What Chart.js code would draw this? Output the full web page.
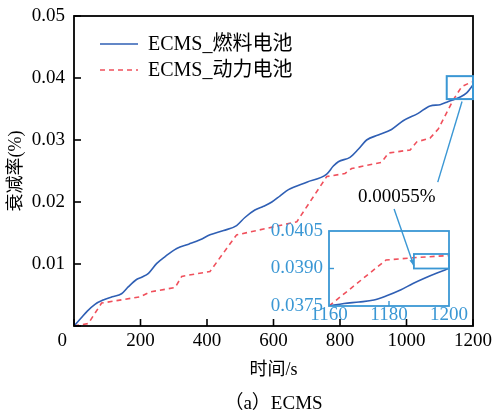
<!DOCTYPE html>
<html><head><meta charset="utf-8">
<script src="https://cdn.jsdelivr.net/npm/chart.js@4.4.1/dist/chart.umd.min.js"></script>
<style>
html,body{margin:0;padding:0;background:#fff;}
#wrap{position:relative;width:494px;height:414px;}
#main{position:absolute;left:0;top:0;}
#inset{position:absolute;left:255px;top:185px;}
</style></head><body>
<div id="wrap"><canvas id="main" width="494" height="414"></canvas><canvas id="inset" width="239" height="145"></canvas></div>
<script>
// ---- data ----
const seriesNames = ['ECMS_燃料电池', 'ECMS_动力电池'];
const timeFC = [0, 20, 40, 63, 88, 115, 143, 163, 188, 205, 224, 249, 274, 309, 345, 379, 409, 450, 489, 514, 544, 570, 595, 620, 645, 700, 760, 780, 795, 830, 855, 880, 915, 955, 990, 1035, 1071, 1101, 1121, 1141, 1160, 1181, 1200];
const fcValues = [0, 0.0012, 0.0024, 0.0035, 0.0042, 0.0047, 0.0052, 0.0063, 0.0075, 0.0079, 0.0085, 0.0101, 0.0112, 0.0125, 0.0132, 0.0139, 0.0147, 0.0154, 0.0162, 0.0175, 0.0187, 0.0193, 0.0200, 0.0210, 0.0220, 0.0232, 0.0245, 0.0258, 0.0265, 0.0272, 0.0285, 0.0300, 0.0308, 0.0317, 0.0331, 0.0343, 0.0355, 0.0357, 0.0361, 0.0365, 0.0369, 0.0376, 0.0389];
const timeBat = [0, 43, 83, 198, 229, 304, 324, 409, 489, 670, 760, 815, 835, 925, 946, 1011, 1031, 1071, 1096, 1141, 1166, 1189, 1200];
const batValues = [0, 0.0004, 0.0037, 0.0047, 0.0055, 0.0062, 0.0080, 0.0088, 0.0147, 0.0168, 0.0241, 0.0246, 0.0254, 0.0264, 0.0279, 0.0284, 0.0297, 0.0303, 0.0318, 0.0365, 0.0386, 0.0392, 0.0394];
const insetTimeFC = [1160, 1165, 1170, 1175, 1179, 1184, 1188, 1192, 1196, 1200];
const insetFC = [0.0375, 0.03760, 0.03766, 0.03774, 0.03790, 0.03815, 0.03840, 0.03862, 0.03882, 0.03900];
const insetTimeBat = [1160, 1179, 1188, 1200];
const insetBat = [0.0375, 0.03934, 0.03943, 0.03952];
const xTickValues = [0, 200, 400, 600, 800, 1000, 1200];
const yTickValues = [0, 0.01, 0.02, 0.03, 0.04, 0.05];
const insetXTicks = [1160, 1180, 1200];
const insetYTicks = [0.0375, 0.0390, 0.0405];
const gapLabel = '0.00055%';
const caption = '（a）ECMS';

// ---- styles ----
const FONT = "'Liberation Serif','Times New Roman','Noto Sans CJK SC',serif";
const BLUE = '#2f5fb4', RED = '#f0505c', LBLUE = '#3a97d4';
Chart.defaults.font.family = FONT;
Chart.defaults.color = '#000';

const pts = (xs, ys) => xs.map((x, i) => ({x: x, y: ys[i]}));
const setTicks = vals => s => { s.ticks = vals.map(v => ({value: v})); };
const fitTo = (prop, size) => s => { s[prop] = size; s.paddingTop = 0; s.paddingBottom = 0; s.paddingLeft = 0; s.paddingRight = 0; };

const mainPlugin = {
  id: 'mainDeco',
  afterDatasetsDraw(chart) {
    const {ctx, chartArea: a, scales: {x, y}} = chart;
    ctx.save();
    ctx.strokeStyle = '#000'; ctx.lineWidth = 1.6;
    xTickValues.forEach(v => { const px = x.getPixelForValue(v); ctx.beginPath(); ctx.moveTo(px, a.bottom); ctx.lineTo(px, a.bottom - 7); ctx.stroke(); });
    yTickValues.forEach(v => { const py = y.getPixelForValue(v); ctx.beginPath(); ctx.moveTo(a.left, py); ctx.lineTo(a.left + 7, py); ctx.stroke(); });
    ctx.lineWidth = 1.8;
    ctx.strokeRect(a.left, a.top, a.right - a.left, a.bottom - a.top);
    // zoom box + leader line
    ctx.strokeStyle = LBLUE; ctx.lineWidth = 2;
    const bx0 = x.getPixelForValue(1121), bx1 = x.getPixelForValue(1200);
    const by0 = y.getPixelForValue(0.0403), by1 = y.getPixelForValue(0.0366);
    ctx.strokeRect(bx0, by0, bx1 - bx0, by1 - by0);
    ctx.lineWidth = 1.4;
    ctx.beginPath(); ctx.moveTo(x.getPixelForValue(1167), y.getPixelForValue(0.0362)); ctx.lineTo(x.getPixelForValue(1094), y.getPixelForValue(0.0232)); ctx.stroke();
    // legend
    ctx.font = '20px ' + FONT; ctx.textBaseline = 'middle'; ctx.textAlign = 'left'; ctx.fillStyle = '#000';
    chart.data.datasets.forEach((d, i) => {
      const ly = 44 + 26 * i;
      ctx.strokeStyle = d.borderColor; ctx.lineWidth = d.borderWidth; ctx.setLineDash(d.borderDash || []);
      ctx.beginPath(); ctx.moveTo(100, ly); ctx.lineTo(138, ly); ctx.stroke();
      ctx.setLineDash([]);
      ctx.fillText(d.label, 148, ly + 1);
    });
    // gap label
    ctx.font = '19px ' + FONT; ctx.textAlign = 'center';
    ctx.fillText(gapLabel, x.getPixelForValue(971), y.getPixelForValue(0.0208));
    // caption
    ctx.fillText(caption, (a.left + a.right) / 2, 404);
    ctx.restore();
  }
};

new Chart(document.getElementById('main'), {
  type: 'line',
  data: {datasets: [
    {label: seriesNames[0], data: pts(timeFC, fcValues), borderColor: BLUE, borderWidth: 1.6, pointRadius: 0, cubicInterpolationMode: 'monotone'},
    {label: seriesNames[1], data: pts(timeBat, batValues), borderColor: RED, borderWidth: 1.6, borderDash: [5, 4], pointRadius: 0}
  ]},
  options: {
    responsive: false, animation: false, devicePixelRatio: 1,
    layout: {padding: {left: 0, right: 21, top: 16, bottom: 0}},
    plugins: {legend: {display: false}, tooltip: {enabled: false}},
    scales: {
      x: {type: 'linear', min: 0, max: 1200, afterBuildTicks: setTicks(xTickValues), afterFit: fitTo('height', 88),
        grid: {display: false, drawTicks: false}, border: {display: false},
        ticks: {padding: 4, color: '#000', font: {size: 19}, maxRotation: 0, autoSkip: false,
          callback: v => v === 0 ? '0\u00a0\u00a0\u00a0\u00a0\u00a0' : String(v)},
        title: {display: true, text: '时间/s', color: '#000', font: {size: 18}, padding: {top: 0, bottom: 33}}},
      y: {type: 'linear', min: 0, max: 0.05, afterBuildTicks: setTicks(yTickValues), afterFit: fitTo('width', 74),
        grid: {display: false, drawTicks: false}, border: {display: false},
        ticks: {padding: 9, color: '#000', font: {size: 19}, autoSkip: false,
          callback: v => v === 0 ? '' : v.toFixed(2)},
        title: {display: true, text: '衰减率(%)', color: '#000', font: {size: 18}, padding: {top: 5, bottom: 0}}}
    }
  },
  plugins: [mainPlugin]
});

const insetPlugin = {
  id: 'insetDeco',
  afterDatasetsDraw(chart) {
    const {ctx, chartArea: a, scales: {x, y}} = chart;
    ctx.save();
    ctx.strokeStyle = LBLUE; ctx.lineWidth = 1.8;
    ctx.strokeRect(a.left, a.top, a.right - a.left, a.bottom - a.top);
    ctx.lineWidth = 1.4;
    [0.0390].forEach(v => { const py = y.getPixelForValue(v); ctx.beginPath(); ctx.moveTo(a.left, py); ctx.lineTo(a.left + 5, py); ctx.stroke(); });
    [1180].forEach(v => { const px = x.getPixelForValue(v); ctx.beginPath(); ctx.moveTo(px, a.bottom); ctx.lineTo(px, a.bottom - 5); ctx.stroke(); });
    // small gap box
    const rx0 = x.getPixelForValue(1188.3), rx1 = x.getPixelForValue(1200);
    const ry0 = y.getPixelForValue(0.03958), ry1 = y.getPixelForValue(0.0390);
    ctx.lineWidth = 1.8;
    ctx.strokeRect(rx0, ry0, rx1 - rx0, ry1 - ry0);
    // arrow
    const sx = x.getPixelForValue(1181.7), sy = y.getPixelForValue(0.04138);
    const tx = x.getPixelForValue(1188.3), ty = y.getPixelForValue(0.0391);
    ctx.lineWidth = 1.4;
    ctx.beginPath(); ctx.moveTo(sx, sy); ctx.lineTo(tx, ty); ctx.stroke();
    const ang = Math.atan2(ty - sy, tx - sx), hl = 7;
    ctx.fillStyle = LBLUE;
    ctx.beginPath(); ctx.moveTo(tx, ty);
    ctx.lineTo(tx - hl * Math.cos(ang - 0.35), ty - hl * Math.sin(ang - 0.35));
    ctx.lineTo(tx - hl * Math.cos(ang + 0.35), ty - hl * Math.sin(ang + 0.35));
    ctx.closePath(); ctx.fill();
    ctx.restore();
  }
};

new Chart(document.getElementById('inset'), {
  type: 'line',
  data: {datasets: [
    {label: seriesNames[0], data: pts(insetTimeFC, insetFC), borderColor: BLUE, borderWidth: 1.6, pointRadius: 0, cubicInterpolationMode: 'monotone'},
    {label: seriesNames[1], data: pts(insetTimeBat, insetBat), borderColor: RED, borderWidth: 1.6, borderDash: [5, 4], pointRadius: 0}
  ]},
  options: {
    responsive: false, animation: false, devicePixelRatio: 1,
    layout: {padding: {left: 0, right: 45, top: 46, bottom: 0}},
    plugins: {legend: {display: false}, tooltip: {enabled: false}},
    scales: {
      x: {type: 'linear', min: 1160, max: 1200, afterBuildTicks: setTicks(insetXTicks), afterFit: fitTo('height', 24),
        grid: {display: false, drawTicks: false}, border: {display: false},
        ticks: {padding: -2, color: LBLUE, font: {size: 19}, maxRotation: 0, autoSkip: false, callback: v => String(v)}},
      y: {type: 'linear', min: 0.0375, max: 0.0405, afterBuildTicks: setTicks(insetYTicks), afterFit: fitTo('width', 74),
        grid: {display: false, drawTicks: false}, border: {display: false},
        ticks: {padding: 6, color: LBLUE, font: {size: 19}, autoSkip: false, callback: v => v.toFixed(4)}}
    }
  },
  plugins: [insetPlugin]
});
</script>
</body></html>
